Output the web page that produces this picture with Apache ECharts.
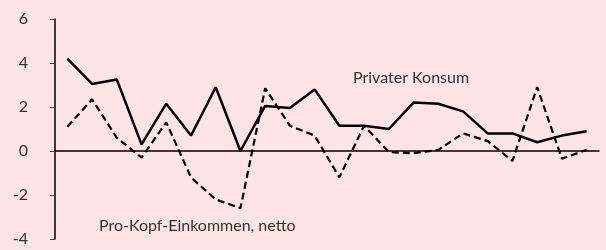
<!DOCTYPE html>
<html>
<head>
<meta charset="utf-8">
<script src="https://cdn.jsdelivr.net/npm/echarts@6/dist/echarts.min.js"></script>
<style>
  html, body { margin: 0; padding: 0; background: #ffe4e6; }
  #chart { width: 606px; height: 250px; }
</style>
</head>
<body>
<div id="chart"></div>
<script>
// 22 Perioden, keine Beschriftung an der x-Achse
var categories = [];
for (var i = 1; i <= 22; i++) categories.push(String(i));

var konsum = [4.2, 3.05, 3.25, 0.3, 2.15, 0.7, 2.9, 0.0, 2.05, 1.95, 2.8, 1.15,
              1.15, 1.0, 2.2, 2.15, 1.8, 0.8, 0.8, 0.4, 0.7, 0.9];
var einkommen = [1.1, 2.35, 0.6, -0.3, 1.3, -1.2, -2.2, -2.6, 2.85, 1.15, 0.7, -1.2,
                 1.15, -0.05, -0.1, 0.05, 0.8, 0.45, -0.45, 2.9, -0.35, 0.05];
var yTicks = [-4, -2, 0, 2, 4, 6];

var myChart = echarts.init(document.getElementById('chart'));

var option = {
    backgroundColor: '#ffe4e6',
    animation: false,
    grid: { left: 55, right: 7, top: 19, bottom: 11 },
    xAxis: {
        type: 'category',
        data: categories,
        boundaryGap: true,
        axisLine: { onZero: true, lineStyle: { color: '#000', width: 1.5 } },
        axisTick: { length: 5, lineStyle: { color: '#666' } },
        axisLabel: { show: false },
        splitLine: { show: false }
    },
    yAxis: {
        type: 'value',
        min: yTicks[0],
        max: yTicks[yTicks.length - 1],
        interval: 2,
        axisLine: { show: true, lineStyle: { color: '#000', width: 1.5 } },
        axisTick: { show: true, length: 5, lineStyle: { color: '#444' } },
        axisLabel: { color: '#333', fontSize: 16, margin: 27, fontFamily: 'Lato' },
        splitLine: { show: false }
    },
    graphic: [
        { type: 'text', left: 353, top: 70,
          style: { text: 'Privater Konsum', fill: '#333', font: '16px Lato' } },
        { type: 'text', left: 99, top: 218,
          style: { text: 'Pro-Kopf-Einkommen, netto', fill: '#333', font: '16px Lato' } }
    ],
    series: [
        {
            name: 'Privater Konsum',
            type: 'line',
            data: konsum,
            symbol: 'none',
            lineStyle: { color: '#000', width: 2.5 }
        },
        {
            name: 'Pro-Kopf-Einkommen, netto',
            type: 'line',
            data: einkommen,
            symbol: 'none',
            lineStyle: { color: '#000', width: 2.2, type: [7, 4] }
        }
    ]
};

myChart.setOption(option);
</script>
</body>
</html>
